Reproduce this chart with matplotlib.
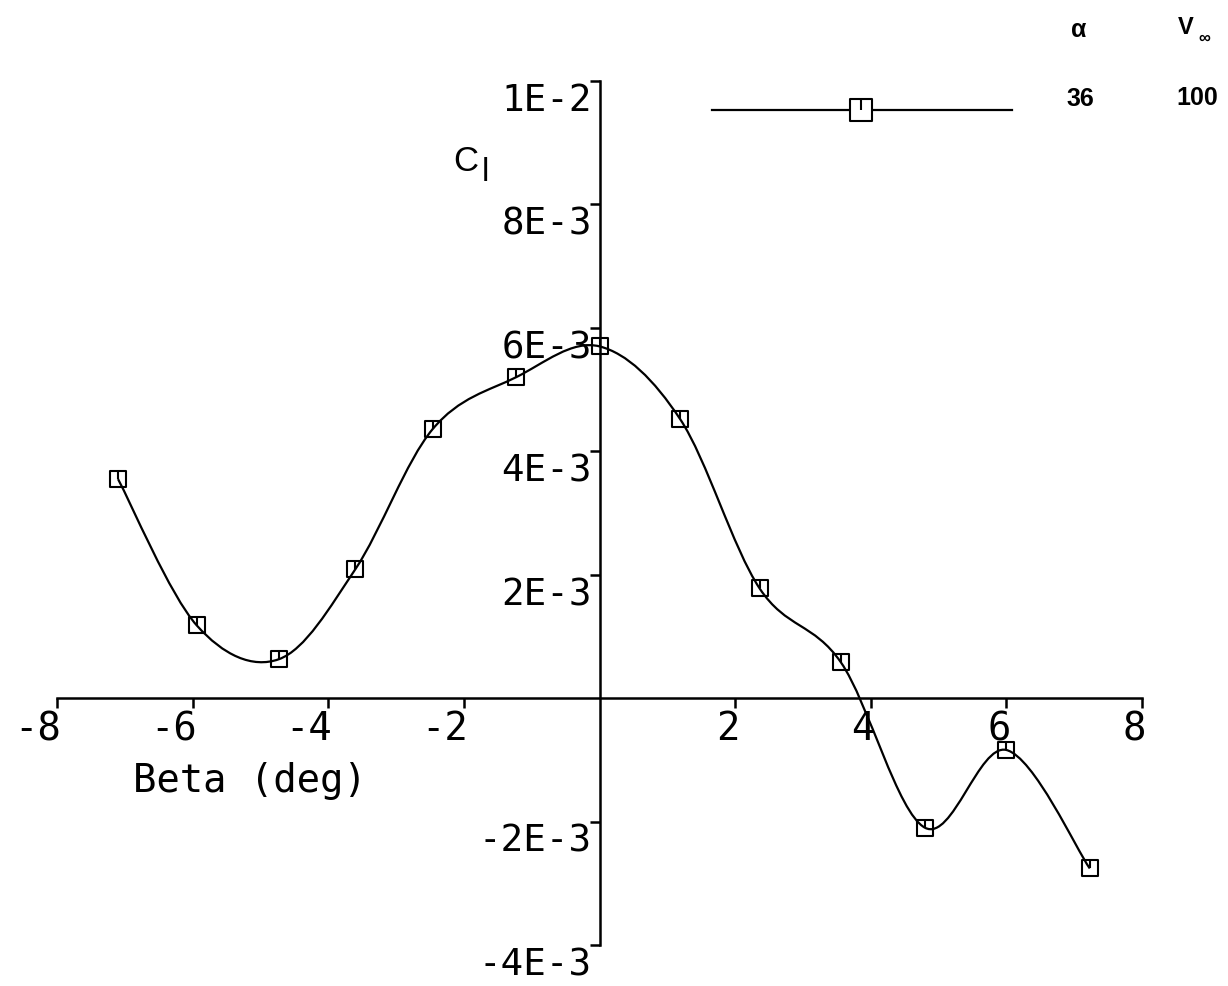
import numpy as np
import matplotlib
matplotlib.use("Agg")
import matplotlib.pyplot as plt
from matplotlib.path import Path
from matplotlib.patches import PathPatch
from matplotlib.lines import Line2D
from matplotlib.transforms import ScaledTranslation

# rolling moment coefficient against sideslip angle
beta = [-7.1, -5.94, -4.73, -3.6, -2.46, -1.23, 0.0, 1.19, 2.36, 3.56, 4.8, 6.0, 7.23]
cl = [3.55e-3, 1.18e-3, 0.63e-3, 2.09e-3, 4.36e-3, 5.2e-3, 5.7e-3,
      4.52e-3, 1.78e-3, 0.58e-3, -2.1e-3, -0.84e-3, -2.76e-3]

x_ticks = [-8, -6, -4, -2, 2, 4, 6, 8]
x_labels = ["-8", "-6", "-4", "-2", "2", "4", "6", "8"]
y_ticks = [-4e-3, -2e-3, 2e-3, 4e-3, 6e-3, 8e-3, 1e-2]
y_labels = ["-4E-3", "-2E-3", "2E-3", "4E-3", "6E-3", "8E-3", "1E-2"]

alpha_val = "36"
v_inf_val = "100"

W, H = 1228, 987
plt.rcParams["font.family"] = "DejaVu Sans Mono"


def smooth_path(xs, ys):
    # Catmull-Rom through the points, written as cubic Bezier segments
    pts = np.column_stack([xs, ys])
    padded = np.vstack([pts[0], pts, pts[-1]])
    verts = [pts[0]]
    codes = [Path.MOVETO]
    for i in range(1, len(padded) - 2):
        p0, p1, p2, p3 = padded[i - 1], padded[i], padded[i + 1], padded[i + 2]
        verts += [p1 + (p2 - p0) / 6, p2 - (p3 - p1) / 6, p2]
        codes += [Path.CURVE4] * 3
    return Path(verts, codes)


# open square with a short stem from the top edge to the centre
box = Path([(-1, -1), (1, -1), (1, 1), (-1, 1), (-1, -1), (0, 1), (0, 0)],
           [Path.MOVETO, Path.LINETO, Path.LINETO, Path.LINETO, Path.CLOSEPOLY,
            Path.MOVETO, Path.LINETO])

fig = plt.figure(figsize=(W / 100, H / 100), dpi=100)
ax = fig.add_axes([57 / W, (H - 946) / H, (1142 - 57) / W, (946 - 82) / H])
ax.set_xlim(-8, 8)
ax.set_ylim(-4e-3, 1e-2)

for side in ["top", "right"]:
    ax.spines[side].set_visible(False)
ax.spines["left"].set_position(("data", 0))
ax.spines["bottom"].set_position(("data", 0))
for side in ["left", "bottom"]:
    ax.spines[side].set_linewidth(1.8)

ax.add_patch(PathPatch(smooth_path(beta, cl), fill=False, lw=1.6, ec="black"))
ax.plot(beta, cl, ls="none", marker=box, ms=12, mfc="none", mec="black", mew=1.5)

ax.set_xticks(x_ticks, labels=x_labels)
ax.set_yticks(y_ticks, labels=y_labels)
ax.tick_params(axis="both", direction="out", length=7, width=1.8)
ax.tick_params(axis="x", pad=1, labelsize=28)
ax.tick_params(axis="y", pad=-1.5, labelsize=27)

for lbl in ax.get_xticklabels():
    lbl.set_horizontalalignment("right")
    lbl.set_transform(lbl.get_transform() + ScaledTranslation(3 / 72, 0, fig.dpi_scale_trans))
for lbl in ax.get_yticklabels():
    lbl.set_verticalalignment("top")
    lbl.set_transform(lbl.get_transform() + ScaledTranslation(0, -1 / 72, fig.dpi_scale_trans))

fig.text(133 / W, 1 - 792 / H, "Beta (deg)", fontsize=28, ha="left", va="baseline")

# C_l axis title
fig.text(453 / W, 1 - 171 / H, "C", fontsize=25, family="Liberation Sans", ha="left", va="baseline")
fig.text(482 / W, 1 - 181 / H, "l", fontsize=24, family="Liberation Sans", ha="left", va="baseline")

# key with the run conditions
key = Line2D([712 / W, 861 / W, 1012 / W], [1 - 111 / H] * 3, transform=fig.transFigure,
             color="black", lw=1.6, marker=box, markevery=[1], ms=16,
             mfc="white", mec="black", mew=1.5)
fig.add_artist(key)

bold = dict(family="Liberation Sans", weight="bold", ha="center", va="center")
fig.text(1079 / W, 1 - 30 / H, "α", fontsize=18, **bold)
fig.text(1186 / W, 1 - 28 / H, "V", fontsize=17, **bold)
fig.text(1204 / W, 1 - 38 / H, "∞", fontsize=12, **bold)
fig.text(1080 / W, 1 - 99 / H, alpha_val, fontsize=18, **bold)
fig.text(1197 / W, 1 - 98 / H, v_inf_val, fontsize=18, **bold)

fig.savefig("out.png", dpi=100)
